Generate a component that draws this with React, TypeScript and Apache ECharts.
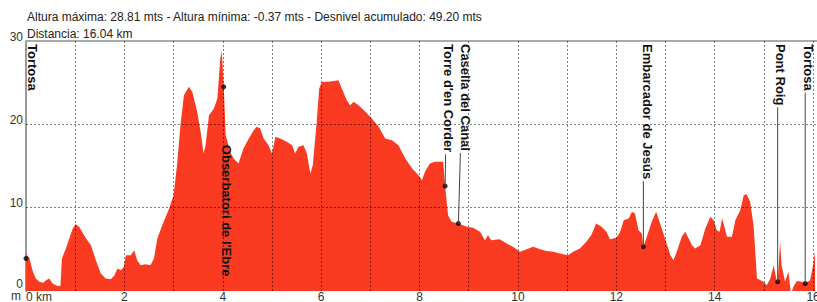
import { useEffect, useRef } from 'react';
import * as echarts from 'echarts';

const distanceKm = [
  0.0, 0.07, 0.14, 0.2, 0.27, 0.35, 0.41, 0.47, 0.54, 0.64, 0.7, 0.73, 0.81, 0.95, 1.01, 1.08, 1.22, 1.32, 1.42, 1.52,
  1.62, 1.72, 1.79, 1.86, 1.93, 1.99, 2.03, 2.13, 2.2, 2.26, 2.33, 2.43, 2.53, 2.6, 2.67, 2.77, 2.91, 3.0, 3.07, 3.14,
  3.21, 3.31, 3.38, 3.48, 3.55, 3.61, 3.65, 3.72, 3.82, 3.89, 3.95, 3.98, 4.02, 4.06, 4.15, 4.22, 4.32, 4.42, 4.53, 4.63,
  4.69, 4.76, 4.83, 4.93, 5.0, 5.07, 5.17, 5.3, 5.41, 5.47, 5.54, 5.64, 5.71, 5.78, 5.83, 5.91, 5.96, 6.02, 6.15, 6.35,
  6.42, 6.52, 6.59, 6.66, 6.76, 6.9, 7.03, 7.17, 7.3, 7.44, 7.57, 7.71, 7.85, 7.98, 8.05, 8.11, 8.21, 8.31, 8.48, 8.52,
  8.58, 8.65, 8.79, 8.96, 9.09, 9.23, 9.33, 9.39, 9.46, 9.63, 9.77, 9.9, 10.04, 10.18, 10.31, 10.45, 10.58, 10.72, 10.85, 11.02,
  11.12, 11.26, 11.39, 11.49, 11.59, 11.7, 11.8, 11.87, 12.0, 12.08, 12.15, 12.25, 12.32, 12.38, 12.45, 12.52, 12.55, 12.62, 12.72, 12.81,
  12.89, 12.99, 13.1, 13.16, 13.23, 13.33, 13.4, 13.47, 13.54, 13.6, 13.71, 13.81, 13.91, 13.98, 14.04, 14.1, 14.15, 14.18, 14.25, 14.35,
  14.42, 14.52, 14.59, 14.65, 14.72, 14.79, 14.86, 14.99, 15.06, 15.13, 15.2, 15.25, 15.28, 15.33, 15.36, 15.43, 15.5, 15.55, 15.6, 15.67,
  15.77, 15.84, 15.94, 16.0, 16.04,
];

const elevationM = [
  4.5, 3.9, 2.3, 1.5, 1.1, 1.0, 1.3, 1.5, 0.9, 0.6, 0.6, 3.9, 5.1, 7.5, 8.0, 7.7, 6.3, 5.5, 3.7, 2.1,
  1.5, 1.4, 1.8, 2.7, 2.5, 2.9, 4.3, 4.3, 4.9, 3.7, 3.1, 3.2, 3.1, 3.9, 6.3, 7.9, 9.9, 11.5, 15.1, 19.9,
  23.5, 24.5, 23.9, 21.5, 19.1, 16.5, 17.5, 21.1, 21.9, 23.1, 27.9, 28.81, 24.5, 18.7, 16.7, 15.9, 15.3, 17.1, 18.3, 19.3,
  19.7, 19.5, 18.3, 17.5, 16.5, 18.5, 18.3, 17.9, 17.5, 16.5, 17.3, 17.5, 16.5, 14.1, 15.1, 20.3, 24.3, 25.1, 25.1, 25.3,
  24.3, 22.9, 22.3, 22.7, 22.3, 21.5, 20.7, 19.7, 18.3, 18.1, 17.5, 15.9, 14.7, 13.9, 13.3, 14.3, 15.3, 15.5, 15.5, 12.6,
  9.1, 8.3, 8.1, 7.7, 7.6, 7.1, 6.1, 6.7, 6.1, 6.2, 5.7, 5.3, 4.7, 5.0, 5.3, 5.0, 4.8, 4.7, 4.5, 4.3,
  4.7, 5.1, 5.9, 6.7, 8.1, 7.7, 7.1, 6.2, 6.4, 7.1, 8.5, 8.7, 9.5, 9.3, 7.3, 6.9, 5.3, 6.5, 8.3, 9.5,
  8.1, 6.3, 4.3, 3.7, 4.7, 6.5, 7.1, 6.3, 5.5, 5.1, 5.5, 7.5, 8.9, 8.5, 7.3, 7.1, 8.7, 8.1, 6.5, 6.5,
  8.5, 9.7, 11.5, 11.6, 10.7, 7.9, 1.5, 1.1, 0.7, 1.5, 3.1, 1.5, 1.1, 5.9, 3.1, 1.1, 2.3, -0.37, 0.5, 1.2,
  1.1, 0.9, 1.3, 3.1, 4.7,
];

const markerNames = ['Tortosa', "Obserbatori de l'Ebre", "Torre d'en Corder", 'Casella del Canal', 'Embarcador de Jesús', 'Pont Roig', 'Tortosa'];
const markerKm = [0.0, 4.02, 8.52, 8.79, 12.55, 15.28, 15.84];
const markerElev = [3.9, 24.5, 12.6, 8.1, 5.3, 1.1, 0.9];

const titleLine1 = 'Altura máxima: 28.81 mts - Altura mínima: -0.37 mts - Desnivel acumulado: 49.20 mts';
const titleLine2 = 'Distancia: 16.04 km';
const yUnit = 'm';
const xUnitSuffix = ' km';
const gridKm = [1, 2, 3, 4, 5, 6, 7, 8, 9, 10, 11, 12, 13, 14, 15, 16];
const gridElev = [10, 20];

// label layout (style): text x offset from dot, whether placed below dot, line offset at text end
const labelLayout = [
  { dx: 6, below: false, lx: 0, line: false },
  { dx: 3, below: true, lx: 0, line: false },
  { dx: 3, below: false, lx: 0.5, line: true },
  { dx: 7, below: false, lx: 2, line: true },
  { dx: 4, below: false, lx: 0, line: true },
  { dx: 3, below: false, lx: 0, line: true },
  { dx: 3.5, below: false, lx: 0, line: true },
];

const FONT = '"Liberation Sans", Arial, sans-serif';
const RED = '#fa3b22';

export default function App() {
  const ref = useRef<HTMLDivElement>(null);
  useEffect(() => {
    if (!ref.current) return;
    const chart = echarts.init(ref.current, null, { renderer: 'svg' });
    const seriesData = distanceKm.map((d, i) => [d, elevationM[i]]);
    chart.setOption({
      animation: false,
      grid: { left: 26, top: 41, right: -1, bottom: 11, containLabel: false, outerBoundsMode: 'none' },
      xAxis: [
        {
          type: 'value',
          min: 0,
          max: 16.1,
          interval: 2,
          axisLine: { show: false },
          axisTick: { show: false },
          splitLine: { show: false },
          axisLabel: {
            color: '#333',
            fontSize: 12,
            fontFamily: FONT,
            margin: 0,
            alignMinLabel: 'left',
            hideOverlap: false,
            formatter: (v: number) => (v === 0 ? '0' + xUnitSuffix : String(v)),
          },
        },
        {
          type: 'value',
          position: 'top',
          min: 0,
          max: 16.1,
          axisLine: { show: true, lineStyle: { color: '#a9a9a9', width: 2 } },
          axisTick: { show: false },
          axisLabel: { show: false },
          splitLine: { show: false },
        },
      ],
      yAxis: {
        type: 'value',
        min: 0,
        max: 30,
        interval: 10,
        axisLine: { show: true, onZero: false, lineStyle: { color: '#9a9a9a', width: 2 } },
        axisTick: { show: false },
        splitLine: { show: false },
        axisLabel: {
          color: '#333',
          fontSize: 12,
          fontFamily: FONT,
          margin: 3,
          padding: [0, 0, 9, 0],
          formatter: (v: number) => (v === 0 ? '{z|0}' : String(v)),
          rich: { z: { fontSize: 12, fontFamily: FONT, color: '#333', padding: [0, 0, 5, 0] } },
        },
      },
      series: [
        {
          type: 'line',
          data: seriesData,
          xAxisIndex: 0,
          showSymbol: false,
          symbol: 'none',
          lineStyle: { width: 0, color: RED },
          areaStyle: { color: RED, opacity: 1 },
          silent: true,
          markLine: {
            silent: true,
            symbol: 'none',
            label: { show: false },
            lineStyle: { color: 'rgba(0,0,0,0.5)', type: [2, 2], width: 1 },
            data: [
              ...gridKm.map((k) => ({ xAxis: k })),
              ...gridElev.map((e) => ({ yAxis: e })),
            ],
          },
        },
        {
          type: 'scatter',
          data: markerKm.map((k, i) => [k, markerElev[i]]),
          symbolSize: 5,
          itemStyle: { color: '#000' },
          silent: true,
          z: 5,
        },
      ],
    });

    const canvas = document.createElement('canvas');
    const ctx = canvas.getContext('2d')!;
    ctx.font = 'bold 13px ' + FONT;
    const graphics: any[] = [
      { type: 'text', x: 27, y: 17, style: { text: titleLine1, font: '12px ' + FONT, fill: '#222', align: 'left', verticalAlign: 'middle' } },
      { type: 'text', x: 27, y: 34, style: { text: titleLine2, font: '12px ' + FONT, fill: '#222', align: 'left', verticalAlign: 'middle' } },
      { type: 'text', x: 11, y: 296, style: { text: yUnit, font: '12px ' + FONT, fill: '#333', align: 'left', verticalAlign: 'middle' } },
    ];
    const textTop = 44;
    markerNames.forEach((name, i) => {
      const [px, py] = chart.convertToPixel({ gridIndex: 0 } as any, [markerKm[i], markerElev[i]]) as number[];
      const w = ctx.measureText(name).width;
      const lay = labelLayout[i];
      const ty = lay.below ? py + 58 : textTop;
      graphics.push({
        type: 'text',
        x: px + lay.dx,
        y: ty,
        rotation: -Math.PI / 2,
        z: 50,
        style: { text: name, font: 'bold 13px ' + FONT, fill: '#111', align: 'left', verticalAlign: 'middle' },
      });
      if (lay.line) {
        graphics.push({
          type: 'line',
          z: 40,
          shape: { x1: px + lay.lx, y1: ty + w + 2, x2: px, y2: py },
          style: { stroke: '#444', lineWidth: 1 },
        });
      }
    });
    chart.setOption({ graphic: graphics });
    return () => chart.dispose();
  }, []);
  return <div ref={ref} style={{ position: 'fixed', left: 0, top: 0, width: 817, height: 302, background: '#fff' }} />;
}
